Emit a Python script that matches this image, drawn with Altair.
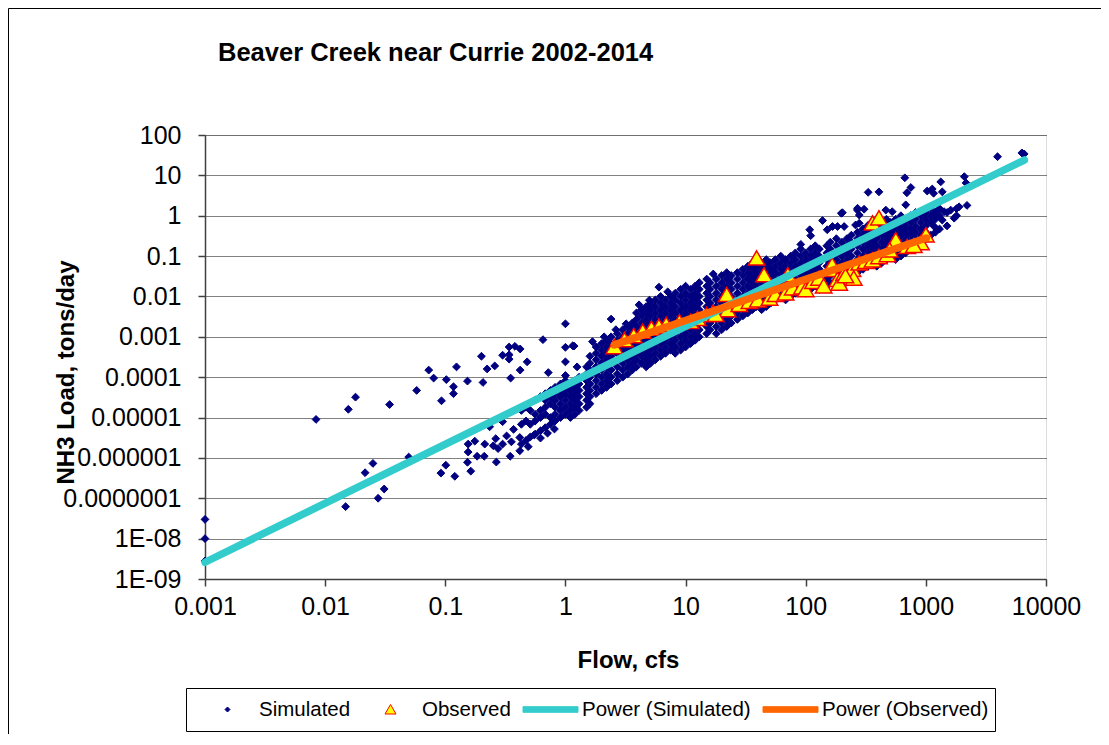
import altair as alt
import pandas as pd

TITLE = "Beaver Creek near Currie 2002-2014"
X_TITLE = "Flow, cfs"
Y_TITLE = "NH3 Load, tons/day"
FONT = "Liberation Sans"

series_names = ["Simulated", "Observed", "Power (Simulated)", "Power (Observed)"]
series_fill = ["#000080", "#FFFF00", "#33CCCC", "#FF6600"]
series_stroke = ["#000080", "#FF0000", "#33CCCC", "#FF6600"]
# every symbol carries an empty sub-path at +-2.75 so that all legend entries get the same width
series_shape = [
    "M-2.75,0L-2.75,0M2.75,0L2.75,0M0,-0.25L0.25,0L0,0.25L-0.25,0Z",
    "M-2.75,0L-2.75,0M2.75,0L2.75,0M0,-0.5L0.55,0.45L-0.55,0.45Z",
    "M-2.75,-0.28L2.75,-0.28L2.75,0.28L-2.75,0.28Z",
    "M-2.75,-0.28L2.75,-0.28L2.75,0.28L-2.75,0.28Z",
]

x_ticks = [0.001, 0.01, 0.1, 1, 10, 100, 1000, 10000]
x_labels = ["0.001", "0.01", "0.1", "1", "10", "100", "1000", "10000"]
y_ticks = [1e-9, 1e-8, 1e-7, 1e-6, 1e-5, 1e-4, 1e-3, 1e-2, 0.1, 1, 10, 100]
y_labels = ["1E-09", "1E-08", "0.0000001", "0.000001", "0.00001", "0.0001",
            "0.001", "0.01", "0.1", "1", "10", "100"]

# simulated: scattered points
sim_out_flow = [
    0.001, 0.001, 0.001,
    0.0084, 0.0156, 0.0179, 0.0344, 0.0578, 0.0728, 0.080, 0.102, 0.093, 0.117, 0.117,
    0.124, 0.153, 0.20, 0.206, 0.223, 0.258, 0.30, 0.34, 0.34, 0.34, 0.38, 0.42,
    0.48, 0.35, 0.42, 0.65, 1.0, 1.15, 1.18, 1.0, 0.72, 1.25, 1.0, 1.0, 2.4,
    0.0148, 0.0215, 0.025, 0.0276, 0.031, 0.0496, 0.092, 0.101, 0.12, 0.153, 0.163, 0.155, 0.155,
    0.176, 0.184, 0.211, 0.213, 0.266, 0.251, 0.275, 0.30, 0.263, 0.324, 0.355, 0.417, 0.347, 0.417,
    0.49, 0.234, 0.30, 0.37, 0.55, 0.62, 0.71, 0.81,
    1.68, 2.1, 2.63, 3.2, 4.1, 4.4, 6.0, 7.1, 5.0, 17, 23,
    91, 108, 110, 138, 151, 184, 209, 202, 269, 306, 279, 198, 270, 279, 333, 260, 167,
    331, 407, 464, 525, 668, 695, 750, 680,
    1026, 1130, 1330, 1370, 1160, 1175, 1370, 1420, 1610, 1720, 1890,
    2090, 2160, 3950, 6300, 6580,
]
sim_out_load = [
    3e-8, 1e-8, 2.8e-9,
    9e-6, 1.6e-5, 3.2e-5, 2.1e-5, 4.7e-5, 1.5e-4, 9.5e-5, 8.7e-5, 2.6e-5, 5.8e-5, 3.9e-5,
    1.8e-4, 8e-5, 3.3e-4, 7.4e-5, 1.6e-4, 1.9e-4, 3.5e-4, 2.8e-4, 3.6e-4, 5.6e-4, 5.8e-4, 5e-4,
    2.4e-4, 9.5e-5, 1.5e-4, 8.5e-4, 5.5e-4, 6e-4, 5.9e-4, 2.4e-4, 1.3e-4, 1.8e-4, 1.1e-4, 2.1e-3, 2.75e-3,
    6.2e-8, 4.3e-7, 7.3e-7, 1.0e-7, 1.7e-7, 1.05e-6, 4.2e-7, 6.6e-7, 3.5e-7, 7.8e-7, 4.7e-7, 1.4e-6, 2.2e-6,
    2.6e-6, 1.1e-6, 1.1e-6, 2.2e-6, 7.9e-7, 2.0e-6, 1.7e-6, 2.2e-6, 3.0e-6, 3.5e-6, 2.5e-6, 3.2e-6, 1.1e-6, 1.5e-6,
    1.9e-6, 5.9e-6, 7.9e-6, 5.1e-6, 3.7e-6, 3.1e-6, 4.1e-6, 5.2e-6,
    7.6e-4, 1.0e-3, 1.5e-3, 2.1e-3, 6.2e-3, 4.6e-3, 1.7e-2, 1.3e-2, 8.1e-3, 0.036, 0.028,
    0.195, 0.45, 0.32, 0.76, 0.45, 0.54, 0.54, 1.19, 1.38, 1.45, 0.65, 1.15, 1.53, 1.04, 0.59, 0.59, 0.54,
    3.8, 3.9, 1.38, 1.26, 8.7, 3.7, 5.0, 1.86,
    4.1, 4.6, 6.9, 3.9, 3.6, 0.54, 0.78, 1.26, 1.38, 0.87, 1.66,
    9.3, 6.5, 29, 36, 34,
]

# simulated: the dense band, one flow per column with the loads seen in it
band_flow = [
    0.43, 0.47, 0.51, 0.56, 0.62, 0.68, 0.75, 0.82, 0.91, 1.0, 1.1, 1.2, 1.3, 1.5, 1.6, 1.8,
    2.0, 2.2, 2.4, 2.7, 3.0, 3.3, 3.6, 3.9, 4.3, 4.7, 5.1, 5.6, 6.2, 6.8, 7.5, 8.2, 9.1,
    10, 11, 12, 13, 15, 16, 18, 20, 22, 24, 27, 30, 33, 36, 39, 43, 47, 51, 56, 62, 68, 75, 82, 91,
    100, 110, 120, 130, 150, 160, 180, 200, 220, 240, 270, 300, 330, 360, 390, 430, 470, 510, 560,
    620, 680, 750, 820, 910, 1000, 1100, 1200, 1300, 1500, 1800, 2200,
]
band_loads = [
    [2.2e-6, 6.8e-6, 1.5e-5],
    [2.7e-6, 8.2e-6, 1.8e-5],
    [3.3e-6, 6.8e-6, 1.5e-5],
    [3.9e-6, 8.2e-6, 1.2e-5, 2.7e-5],
    [4.7e-6, 1e-5, 1.5e-5, 3.3e-5],
    [5.6e-6, 1.2e-5, 1.8e-5, 2.7e-5, 3.9e-5],
    [6.8e-6, 1e-5, 2.2e-5, 3.3e-5, 4.7e-5],
    [8.2e-6, 1.2e-5, 1.8e-5, 2.7e-5, 3.9e-5, 5.6e-5],
    [1e-5, 1.5e-5, 2.2e-5, 3.3e-5, 4.7e-5, 6.8e-5],
    [1.2e-5, 1.8e-5, 2.7e-5, 3.9e-5, 5.6e-5, 8.2e-5],
    [1e-5, 1.5e-5, 2.2e-5, 3.3e-5, 4.7e-5, 6.8e-5],
    [1.2e-5, 1.8e-5, 2.7e-5, 3.9e-5, 5.6e-5, 8.2e-5],
    [1.5e-5, 2.2e-5, 3.3e-5, 4.7e-5, 6.8e-5, 1e-4],
    [1.8e-5, 2.7e-5, 3.9e-5, 5.6e-5, 8.2e-5, 1.2e-4, 1.8e-4],
    [2.2e-5, 3.3e-5, 4.7e-5, 6.8e-5, 1e-4, 1.5e-4, 2.2e-4, 3.3e-4],
    [3.9e-5, 5.6e-5, 8.2e-5, 1.2e-4, 1.8e-4, 2.7e-4, 3.9e-4, 5.6e-4],
    [4.7e-5, 6.8e-5, 1e-4, 1.5e-4, 2.2e-4, 3.3e-4, 4.7e-4, 6.8e-4],
    [5.6e-5, 8.2e-5, 1.2e-4, 1.8e-4, 2.7e-4, 3.9e-4, 5.6e-4, 8.2e-4],
    [6.8e-5, 1e-4, 1.5e-4, 2.2e-4, 3.3e-4, 4.7e-4, 6.8e-4, 1e-3],
    [8.2e-5, 1.2e-4, 1.8e-4, 2.7e-4, 3.9e-4, 5.6e-4, 8.2e-4, 1.2e-3],
    [1e-4, 1.5e-4, 2.2e-4, 3.3e-4, 4.7e-4, 6.8e-4, 1e-3, 1.5e-3],
    [1.2e-4, 1.8e-4, 2.7e-4, 3.9e-4, 5.6e-4, 8.2e-4, 1.2e-3, 1.8e-3],
    [1.5e-4, 2.2e-4, 3.3e-4, 4.7e-4, 6.8e-4, 1e-3, 1.5e-3, 2.2e-3],
    [1.8e-4, 2.7e-4, 3.9e-4, 5.6e-4, 8.2e-4, 1.2e-3, 1.8e-3, 2.7e-3, 3.9e-3],
    [2.2e-4, 3.3e-4, 4.7e-4, 6.8e-4, 1e-3, 1.5e-3, 2.2e-3, 3.3e-3, 4.7e-3],
    [1.8e-4, 2.7e-4, 3.9e-4, 5.6e-4, 8.2e-4, 1.2e-3, 1.8e-3, 2.7e-3, 3.9e-3, 5.6e-3],
    [2.2e-4, 3.3e-4, 4.7e-4, 6.8e-4, 1e-3, 1.5e-3, 2.2e-3, 3.3e-3, 4.7e-3, 6.8e-3],
    [2.7e-4, 3.9e-4, 5.6e-4, 8.2e-4, 1.2e-3, 1.8e-3, 2.7e-3, 3.9e-3, 5.6e-3, 8.2e-3],
    [3.3e-4, 4.7e-4, 6.8e-4, 1e-3, 1.5e-3, 2.2e-3, 3.3e-3, 4.7e-3, 6.8e-3, 1e-2],
    [3.9e-4, 5.6e-4, 8.2e-4, 1.2e-3, 1.8e-3, 2.7e-3, 3.9e-3, 5.6e-3, 8.2e-3],
    [4.7e-4, 6.8e-4, 1e-3, 1.5e-3, 2.2e-3, 3.3e-3, 4.7e-3, 6.8e-3, 1e-2],
    [3.9e-4, 5.6e-4, 8.2e-4, 1.2e-3, 1.8e-3, 2.7e-3, 3.9e-3, 5.6e-3, 8.2e-3, 1.2e-2],
    [4.7e-4, 6.8e-4, 1e-3, 1.5e-3, 2.2e-3, 3.3e-3, 4.7e-3, 6.8e-3, 1e-2, 1.5e-2],
    [5.6e-4, 8.2e-4, 1.2e-3, 1.8e-3, 2.7e-3, 3.9e-3, 5.6e-3, 8.2e-3, 1.2e-2, 1.8e-2],
    [6.8e-4, 1e-3, 1.5e-3, 2.2e-3, 3.3e-3, 4.7e-3, 6.8e-3, 1e-2, 1.5e-2],
    [8.2e-4, 1.2e-3, 1.8e-3, 2.7e-3, 3.9e-3, 5.6e-3, 8.2e-3, 1.2e-2, 1.8e-2],
    [1e-3, 1.5e-3, 2.2e-3, 3.3e-3, 4.7e-3, 6.8e-3, 1e-2, 1.5e-2, 2.2e-2],
    [1.2e-3, 1.8e-3, 2.7e-3, 3.9e-3, 5.6e-3, 8.2e-3, 1.2e-2, 1.8e-2, 2.7e-2],
    [1.5e-3, 2.2e-3, 3.3e-3, 4.7e-3, 6.8e-3, 1e-2, 1.5e-2, 2.2e-2],
    [1.2e-3, 1.8e-3, 2.7e-3, 3.9e-3, 5.6e-3, 8.2e-3, 1.2e-2, 1.8e-2, 2.7e-2],
    [1.5e-3, 2.2e-3, 3.3e-3, 4.7e-3, 6.8e-3, 1e-2, 1.5e-2, 2.2e-2, 3.3e-2],
    [1.8e-3, 2.7e-3, 3.9e-3, 5.6e-3, 8.2e-3, 1.2e-2, 1.8e-2, 2.7e-2, 3.9e-2],
    [2.2e-3, 3.3e-3, 4.7e-3, 6.8e-3, 1e-2, 1.5e-2, 2.2e-2, 3.3e-2],
    [2.7e-3, 3.9e-3, 5.6e-3, 8.2e-3, 1.2e-2, 1.8e-2, 2.7e-2, 3.9e-2],
    [3.3e-3, 4.7e-3, 6.8e-3, 1e-2, 1.5e-2, 2.2e-2, 3.3e-2, 4.7e-2],
    [3.9e-3, 5.6e-3, 8.2e-3, 1.2e-2, 1.8e-2, 2.7e-2, 3.9e-2, 5.6e-2],
    [4.7e-3, 6.8e-3, 1e-2, 1.5e-2, 2.2e-2, 3.3e-2, 4.7e-2, 6.8e-2],
    [5.6e-3, 8.2e-3, 1.2e-2, 1.8e-2, 2.7e-2, 3.9e-2, 5.6e-2],
    [4.7e-3, 6.8e-3, 1e-2, 1.5e-2, 2.2e-2, 3.3e-2, 4.7e-2, 6.8e-2],
    [5.6e-3, 8.2e-3, 1.2e-2, 1.8e-2, 2.7e-2, 3.9e-2, 5.6e-2, 8.2e-2],
    [6.8e-3, 1e-2, 1.5e-2, 2.2e-2, 3.3e-2, 4.7e-2, 6.8e-2],
    [8.2e-3, 1.2e-2, 1.8e-2, 2.7e-2, 3.9e-2, 5.6e-2, 8.2e-2],
    [1e-2, 1.5e-2, 2.2e-2, 3.3e-2, 4.7e-2, 6.8e-2, 1e-1],
    [8.2e-3, 1.2e-2, 1.8e-2, 2.7e-2, 3.9e-2, 5.6e-2, 8.2e-2],
    [1e-2, 1.5e-2, 2.2e-2, 3.3e-2, 4.7e-2, 6.8e-2, 1e-1],
    [1.2e-2, 1.8e-2, 2.7e-2, 3.9e-2, 5.6e-2, 8.2e-2, 1.2e-1],
    [1.5e-2, 2.2e-2, 3.3e-2, 4.7e-2, 6.8e-2, 1e-1, 1.5e-1],
    [1.2e-2, 1.8e-2, 2.7e-2, 3.9e-2, 5.6e-2, 8.2e-2, 1.2e-1],
    [1.5e-2, 2.2e-2, 3.3e-2, 4.7e-2, 6.8e-2, 1e-1, 1.5e-1],
    [1.8e-2, 2.7e-2, 3.9e-2, 5.6e-2, 8.2e-2, 1.2e-1, 1.8e-1],
    [1.5e-2, 2.2e-2, 3.3e-2, 4.7e-2, 6.8e-2, 1e-1, 1.5e-1],
    [1.8e-2, 2.7e-2, 3.9e-2, 5.6e-2, 8.2e-2, 1.2e-1, 1.8e-1],
    [2.2e-2, 3.3e-2, 4.7e-2, 6.8e-2, 1e-1, 1.5e-1, 2.2e-1],
    [2.7e-2, 3.9e-2, 5.6e-2, 8.2e-2, 1.2e-1, 1.8e-1, 2.7e-1],
    [3.3e-2, 4.7e-2, 6.8e-2, 1e-1, 1.5e-1, 2.2e-1],
    [2.7e-2, 3.9e-2, 5.6e-2, 8.2e-2, 1.2e-1, 1.8e-1, 2.7e-1],
    [3.3e-2, 4.7e-2, 6.8e-2, 1e-1, 1.5e-1, 2.2e-1, 3.3e-1],
    [3.9e-2, 5.6e-2, 8.2e-2, 1.2e-1, 1.8e-1, 2.7e-1, 3.9e-1],
    [4.7e-2, 6.8e-2, 1e-1, 1.5e-1, 2.2e-1, 3.3e-1, 4.7e-1],
    [5.6e-2, 8.2e-2, 1.2e-1, 1.8e-1, 2.7e-1, 3.9e-1, 5.6e-1],
    [6.8e-2, 1e-1, 1.5e-1, 2.2e-1, 3.3e-1, 4.7e-1],
    [5.6e-2, 8.2e-2, 1.2e-1, 1.8e-1, 2.7e-1, 3.9e-1, 5.6e-1],
    [6.8e-2, 1e-1, 1.5e-1, 2.2e-1, 3.3e-1, 4.7e-1, 6.8e-1],
    [8.2e-2, 1.2e-1, 1.8e-1, 2.7e-1, 3.9e-1, 5.6e-1, 8.2e-1],
    [1e-1, 1.5e-1, 2.2e-1, 3.3e-1, 4.7e-1, 6.8e-1],
    [8.2e-2, 1.2e-1, 1.8e-1, 2.7e-1, 3.9e-1, 5.6e-1, 8.2e-1],
    [1e-1, 1.5e-1, 2.2e-1, 3.3e-1, 4.7e-1, 6.8e-1, 1.0],
    [1.2e-1, 1.8e-1, 2.7e-1, 3.9e-1, 5.6e-1, 8.2e-1],
    [1.5e-1, 2.2e-1, 3.3e-1, 4.7e-1, 6.8e-1, 1.0],
    [1.8e-1, 2.7e-1, 3.9e-1, 5.6e-1, 8.2e-1, 1.2],
    [2.2e-1, 3.3e-1, 4.7e-1, 6.8e-1, 1.0],
    [2.7e-1, 3.9e-1, 5.6e-1, 8.2e-1, 1.2],
    [3.3e-1, 6.8e-1, 1.0, 1.5],
    [3.9e-1, 8.2e-1, 1.2],
    [4.7e-1, 1.0, 1.5],
    [5.6e-1, 1.2],
    [1.0, 1.5],
    [1.8],
]

obs_flow = [2.55, 3.1, 3.7, 4.4, 5.2, 6.0, 6.9, 8.9, 11, 15, 17, 22, 22.4, 28, 34, 40, 39, 45,
            50, 56, 68, 71, 78, 93, 100, 115, 129, 141, 158, 166, 184, 190, 209, 245, 279,
            316, 360, 407, 479, 360, 407, 562, 700, 910, 1000, 251, 214, 17.8, 12.6, 500, 794]
obs_load = [5.6e-4, 8.3e-4, 1.05e-3, 1.35e-3, 1.6e-3, 1.8e-3, 2.0e-3, 2.3e-3, 2.35e-3, 3.5e-3,
            4.0e-3, 0.011, 4.6e-3, 6.2e-3, 7.4e-3, 8.1e-3, 0.088, 0.034, 8.9e-3, 0.011, 0.012,
            0.034, 0.016, 0.017, 0.0145, 0.023, 0.028, 0.018, 0.046, 0.060, 0.026, 0.021, 0.037,
            0.046, 0.066, 0.072, 0.079, 0.095, 0.107, 0.65, 0.87, 0.25, 0.17, 0.21, 0.33, 0.028,
            0.032, 3.5e-3, 2.8e-3, 0.14, 0.18]

fit_series = ["Power (Simulated)", "Power (Simulated)", "Power (Observed)", "Power (Observed)"]
fit_flow = [0.001, 6600, 2.55, 1010]
fit_load = [2.6e-9, 24, 6.3e-4, 0.28]

# ---- tables
sim_rows = [(f, l) for f, l in zip(sim_out_flow, sim_out_load)]
for f, loads in zip(band_flow, band_loads):
    for l in loads:
        sim_rows.append((f, l))
sim_df = pd.DataFrame(sim_rows, columns=["flow", "load"])
sim_df["series"] = "Simulated"
obs_df = pd.DataFrame({"flow": obs_flow, "load": obs_load, "series": "Observed"})
fit_df = pd.DataFrame({"flow": fit_flow, "load": fit_load, "series": fit_series})


def label_expr(vals, labels):
    expr = "''"
    for v, lab in reversed(list(zip(vals, labels))):
        expr = f"(datum.value < {v * 1.5!r} ? '{lab}' : {expr})"
    return expr


W, H = 841, 444

x_enc = alt.X(
    "flow:Q",
    scale=alt.Scale(type="log", domain=[0.001, 10000], nice=False),
    axis=alt.Axis(
        values=x_ticks, labelExpr=label_expr(x_ticks, x_labels), title=X_TITLE,
        grid=False, tickSize=7, tickColor="#404040", tickWidth=1.5,
        domainColor="#404040", domainWidth=1.5,
        labelFont=FONT, labelFontSize=25, labelColor="black", labelPadding=8,
        labelFlush=False, labelOverlap=False, labelBound=False,
        titleFont=FONT, titleFontSize=24, titleFontWeight="bold", titleColor="black",
        titleX=423, titleY=88, titleBaseline="alphabetic", titleAlign="center",
    ),
)
y_enc = alt.Y(
    "load:Q",
    scale=alt.Scale(type="log", domain=[1e-9, 100], nice=False),
    axis=alt.Axis(
        values=y_ticks, labelExpr=label_expr(y_ticks, y_labels), title=Y_TITLE,
        grid=True, gridColor="#000000", gridDash=[1, 1], gridWidth=1, gridOpacity=1,
        tickSize=7, tickColor="#404040", tickWidth=1.5,
        domainColor="#404040", domainWidth=1.5,
        labelFont=FONT, labelFontSize=25, labelColor="black", labelPadding=17,
        labelFlush=False, labelOverlap=False, labelBound=False,
        titleFont=FONT, titleFontSize=24, titleFontWeight="bold", titleColor="black",
        titleX=-132, titleY=237, titleAngle=270, titleBaseline="alphabetic",
        titleAlign="center",
    ),
)

legend = alt.Legend(
    title=None, orient="none", legendX=12, legendY=564, direction="horizontal",
    columns=4, columnPadding=10, padding=0,
    labelFont=FONT, labelFontSize=20.5, labelColor="black", labelOffset=21, labelLimit=400,
    symbolSize=400, symbolStrokeWidth=1,
)
fill_enc = alt.Fill("series:N", scale=alt.Scale(domain=series_names, range=series_fill), legend=legend)
stroke_enc = alt.Stroke("series:N", scale=alt.Scale(domain=series_names, range=series_stroke), legend=legend)
shape_enc = alt.Shape("series:N", scale=alt.Scale(domain=series_names, range=series_shape), legend=legend)

sim_layer = alt.Chart(sim_df).mark_point(filled=True, size=980, strokeWidth=1, opacity=1).encode(
    x=x_enc, y=y_enc, fill=fill_enc, stroke=stroke_enc, shape=shape_enc
)
obs_layer = alt.Chart(obs_df).mark_point(filled=True, size=900, strokeWidth=1.5, opacity=1).encode(
    x="flow:Q", y="load:Q", fill=fill_enc, stroke=stroke_enc, shape=shape_enc
)
fit_layer = alt.Chart(fit_df).mark_line(strokeWidth=7.5, strokeCap="round").encode(
    x="flow:Q", y="load:Q",
    stroke=alt.Stroke("series:N", scale=alt.Scale(domain=series_names, range=series_stroke), legend=None),
)

frame_df = pd.DataFrame({"k": [0]})
top_border = alt.Chart(frame_df).mark_rule(color="#000000", strokeWidth=1).encode(
    x=alt.value(-196.5), x2=alt.value(W + 55), y=alt.value(-126.5)
)
left_border = alt.Chart(frame_df).mark_rule(color="#000000", strokeWidth=1).encode(
    x=alt.value(-196.5), y=alt.value(-126.5), y2=alt.value(H + 155)
)
legend_box = alt.Chart(frame_df).mark_rect(filled=False, stroke="#000000", strokeWidth=1).encode(
    x=alt.value(-18.5), x2=alt.value(790.5), y=alt.value(553.5), y2=alt.value(596.5)
)

chart = alt.layer(sim_layer, obs_layer, fit_layer, top_border, left_border, legend_box).properties(
    width=W, height=H,
    title=alt.TitleParams(
        TITLE, anchor="start", frame="group", dx=13, offset=-78, baseline="alphabetic",
        font=FONT, fontSize=25.5, fontWeight="bold", color="black",
    ),
    autosize=alt.AutoSizeParams(type="none"),
    padding={"left": 197, "top": 127, "right": 55, "bottom": 155},
).configure_view(stroke="#808080", strokeWidth=2).configure(background="white")

chart.save("out.html", embed_options={"renderer": "svg", "actions": False})
